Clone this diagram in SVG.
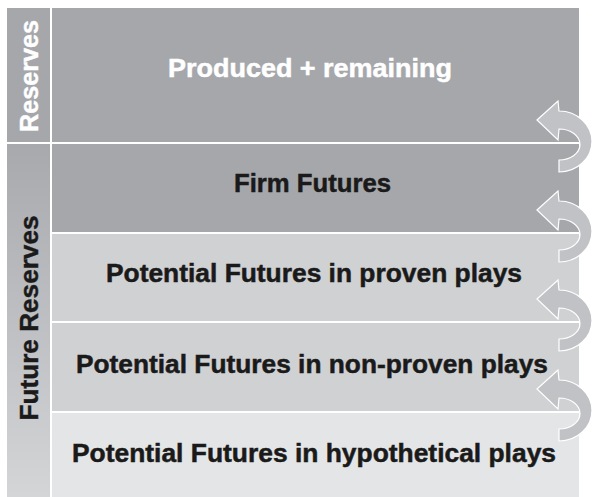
<svg xmlns="http://www.w3.org/2000/svg" width="594" height="497" viewBox="0 0 594 497">
  <style>
    .lbl { font-family: "Liberation Sans", Arial, sans-serif; font-weight: bold; font-size: 26.5px; text-anchor: middle; stroke-width: 0.5; }
    .side { font-family: "Liberation Sans", Arial, sans-serif; font-weight: bold; font-size: 25.5px; text-anchor: middle; stroke-width: 0.4; }
    .dark { fill: #a6a7ab; }
    .mid { fill: #d0d1d3; }
    .pale { fill: #e4e5e6; }
    .ink { fill: #1a1a1a; stroke: #1a1a1a; }
    .white { fill: #ffffff; stroke: #ffffff; }
    .arrow { fill: #c1c2c5; stroke: #ffffff; stroke-width: 1.2; stroke-linejoin: miter; }
  </style>
  <defs>
    <linearGradient id="futureFill" x1="0" y1="0" x2="0" y2="1">
      <stop offset="0" stop-color="#a8a9ad"/>
      <stop offset="1" stop-color="#d4d5d7"/>
    </linearGradient>
    <!-- U-turn arrow, drawn around a row boundary at y = 0 -->
    <path id="uturn" d="M537,-23 L558,-42 L559,-32 A33,30.5 0 0 1 559,29 L559,17 A21,15.5 0 0 0 559,-14 L558,-3 Z"/>
  </defs>

  <rect x="0" y="0" width="594" height="497" fill="#ffffff"/>

  <!-- side category labels -->
  <g id="cat-reserves">
    <rect class="dark" x="7" y="8" width="43" height="134"/>
    <text class="side white" transform="translate(38,76) rotate(-90)" textLength="112" lengthAdjust="spacingAndGlyphs">Reserves</text>
  </g>
  <g id="cat-future-reserves">
    <rect x="7" y="144" width="43" height="353" fill="url(#futureFill)"/>
    <text class="side ink" transform="translate(38,318) rotate(-90)" textLength="205" lengthAdjust="spacingAndGlyphs">Future Reserves</text>
  </g>

  <!-- stacked rows -->
  <g id="row-produced">
    <rect class="dark" x="52" y="8" width="527" height="134"/>
    <text class="lbl white" x="310" y="77" textLength="284" lengthAdjust="spacingAndGlyphs">Produced + remaining</text>
  </g>
  <g id="row-firm">
    <rect class="dark" x="52" y="144" width="527" height="88"/>
    <text class="lbl ink" x="312.5" y="192" textLength="157" lengthAdjust="spacingAndGlyphs">Firm Futures</text>
  </g>
  <g id="row-proven">
    <rect class="mid" x="52" y="234" width="527" height="87"/>
    <text class="lbl ink" x="314" y="282" textLength="416" lengthAdjust="spacingAndGlyphs">Potential Futures in proven plays</text>
  </g>
  <g id="row-nonproven">
    <rect class="mid" x="52" y="323" width="527" height="88"/>
    <text class="lbl ink" x="312" y="373" textLength="472" lengthAdjust="spacingAndGlyphs">Potential Futures in non-proven plays</text>
  </g>
  <g id="row-hypothetical">
    <rect class="pale" x="52" y="413" width="527" height="84"/>
    <text class="lbl ink" x="314" y="462" textLength="484" lengthAdjust="spacingAndGlyphs">Potential Futures in hypothetical plays</text>
  </g>

  <!-- promotion arrows between rows -->
  <g id="connectors">
    <use href="#uturn" class="arrow" transform="translate(0,143)"/>
    <use href="#uturn" class="arrow" transform="translate(0,233)"/>
    <use href="#uturn" class="arrow" transform="translate(0,322)"/>
    <use href="#uturn" class="arrow" transform="translate(0,412)"/>
  </g>
</svg>
